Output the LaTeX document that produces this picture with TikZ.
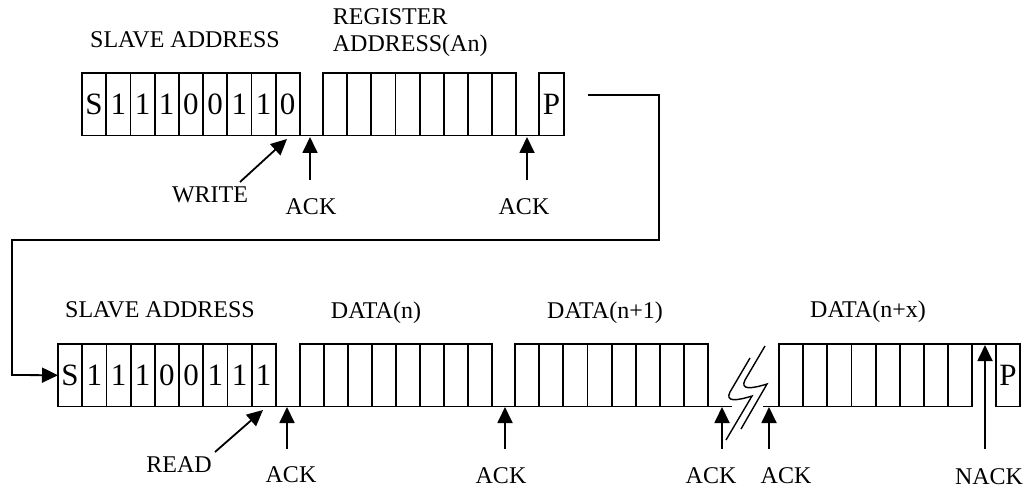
\documentclass[tikz,border=0pt]{standalone}
\usepackage{fontspec}
\setmainfont{Liberation Serif}
\usetikzlibrary{arrows.meta}
\begin{document}
\begin{tikzpicture}[x=1pt,y=-1pt,line width=1.8pt,
  bitcell/.style={draw,line width=1.8pt,minimum width=24.2pt,minimum height=62.5pt,
    inner sep=0pt,outer sep=0pt,anchor=north west,font=\fontsize{31}{34}\selectfont},
  lbl/.style={font=\fontsize{24}{27}\selectfont,inner sep=0pt},
  arr/.style={-{Triangle[length=16pt,width=15pt]},line width=1.8pt},
  brk/.style={line width=1.4pt}]
\useasboundingbox (0,0) rectangle (1027,489);
% ---------- top row ----------
\foreach \t [count=\i from 0] in {S,1,1,1,0,0,1,1,0}
  \node[bitcell] (ta\i) at ({82+24.2*\i},73) {\t};
\foreach \i in {0,...,7}
  \node[bitcell] (tb\i) at ({323+24.15*\i},73) {};
\node[bitcell,minimum width=25pt] (tp) at (539,73) {P};
\draw (ta8.south east) -- (tp.south west);
\node[lbl] (l1) at (185,40) {SLAVE ADDRESS};
\node[lbl,align=left,anchor=west] (l2) at (332,33) {REGISTER\\ADDRESS(An)};
\node[lbl] (w) at (210,195) {WRITE};
\node[lbl] (a1) at (311,207) {ACK};
\node[lbl] (a2) at (524,207) {ACK};
\coordinate (ws) at (240,182); \coordinate (we) at (287,139);
\draw[arr] (ws) -- (we);
\coordinate (k1s) at (310,180); \coordinate (k1e) at (310,137);
\draw[arr] (k1s) -- (k1e);
\coordinate (k2s) at (527,180); \coordinate (k2e) at (527,137);
\draw[arr] (k2s) -- (k2e);
% ---------- bottom row ----------
\foreach \t [count=\i from 0] in {S,1,1,1,0,0,1,1,1}
  \node[bitcell] (ba\i) at ({58+24.2*\i},344) {\t};
\foreach \i in {0,...,7}
  \node[bitcell] (bb\i) at ({300+24*\i},344) {};
\foreach \i in {0,...,7}
  \node[bitcell] (bc\i) at ({515+24.15*\i},344) {};
\foreach \i in {0,...,7}
  \node[bitcell] (bd\i) at ({779+24.15*\i},344) {};
\node[bitcell,minimum width=24pt] (bp) at (996,344) {P};
\draw (bd7.north east) -- (bp.north west);
\draw (ba8.south east) -- (bb0.south west);
\draw (bb7.south east) -- (bc0.south west);
\coordinate (br1) at (732,406.5); \coordinate (br2) at (763,406.5);
\draw (bc7.south east) -- (br1);
\draw (br2) -- (bd0.south west);
% ---------- connector ----------
\coordinate (c0) at (588,95);
\draw[arr] (c0) -| (659,240) -| (12,375) -- (ba0.west);
% break symbol
\draw[brk] (750,358) -- (730,392) .. controls (725,402) and (736,401) .. (752,396) -- (726,440);
\draw[brk] (765,346) -- (745,380) .. controls (740,390) and (751,389) .. (767,384) -- (741,429);
% labels
\node[lbl] (l3) at (160,310) {SLAVE ADDRESS};
\node[lbl] (l4) at (376,313) {DATA(n)};
\node[lbl] (l5) at (605,313) {DATA(n+1)};
\node[lbl] (l6) at (868,312) {DATA(n+x)};
\node[lbl] (r) at (179,465) {READ};
\node[lbl] (a3) at (291,475) {ACK};
\node[lbl] (a4) at (501,476) {ACK};
\node[lbl] (a5) at (711,476) {ACK};
\node[lbl] (a6) at (786,476) {ACK};
\node[lbl] (nk) at (989,477) {NACK};
\coordinate (rs) at (215,452); \coordinate (re) at (263,410);
\draw[arr] (rs) -- (re);
\coordinate (k3s) at (287,449); \coordinate (k3e) at (287,407);
\draw[arr] (k3s) -- (k3e);
\coordinate (k4s) at (505,449); \coordinate (k4e) at (505,407);
\draw[arr] (k4s) -- (k4e);
\coordinate (k5s) at (722,449); \coordinate (k5e) at (722,407);
\draw[arr] (k5s) -- (k5e);
\coordinate (k6s) at (769,449); \coordinate (k6e) at (769,407);
\draw[arr] (k6s) -- (k6e);
\coordinate (k7s) at (985,449); \coordinate (k7e) at (985,345);
\draw[arr] (k7s) -- (k7e);
\end{tikzpicture}
\end{document}
